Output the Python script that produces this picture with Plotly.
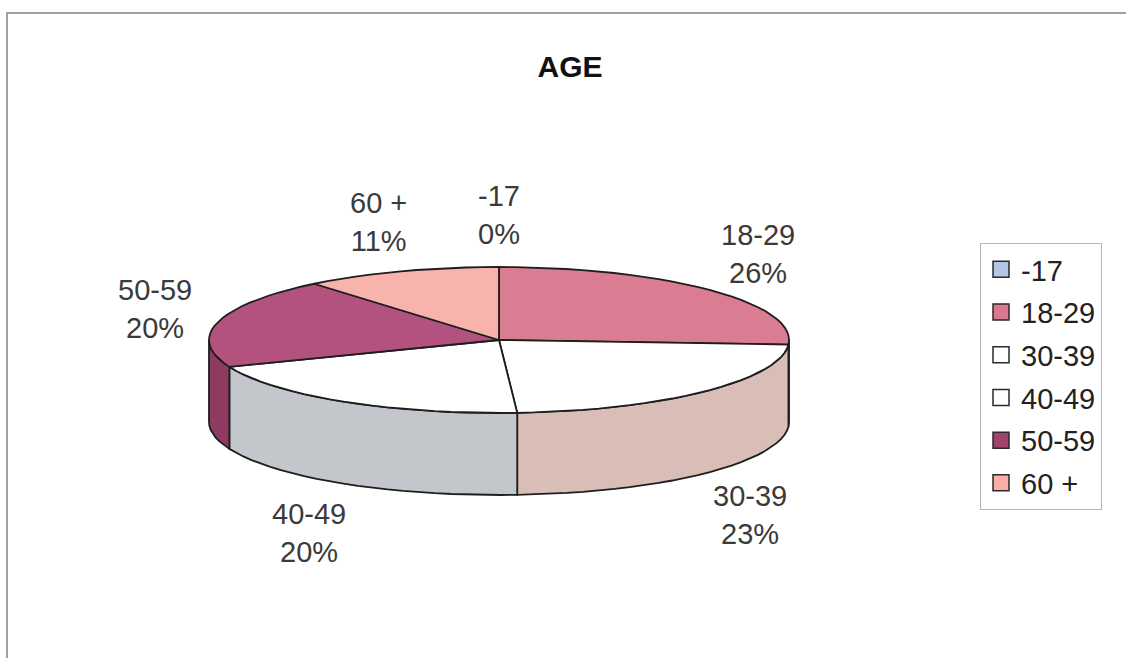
import math
import plotly.graph_objects as go

# ---- data ----
categories = ["-17", "18-29", "30-39", "40-49", "50-59", "60 +"]
percentages = [0, 26, 23, 20, 20, 11]
top_colors = ["#b9c8e6", "#da7d93", "#ffffff", "#ffffff", "#b4527f", "#f8b3ad"]
side_colors = ["#93a3c4", "#b45f72", "#d9beb7", "#c3c6cb", "#8e3b61", "#d8928c"]
legend_colors = ["#b3c4e4", "#d9788f", "#ffffff", "#ffffff", "#a3416e", "#f6aea6"]
title_text = "AGE"

# ---- layout constants ----
W, H = 1126, 658
CX, CY, RX, RY, DEPTH = 499, 340, 290, 73, 82
LX, LYT, LYF = 355, 125, 132
EDGE = "#1e1e1e"
FONT = "Liberation Sans, Arial, sans-serif"

total = float(sum(percentages))
fig = go.Figure()


def pt(theta, dy=0.0):
    return CX + RX * math.sin(theta), CY - RY * math.cos(theta) + dy


def arc(a0, a1, dy=0.0, n=100):
    xs, ys = [], []
    steps = max(2, int(n * (a1 - a0) / (2 * math.pi)) + 2)
    for k in range(steps + 1):
        t = a0 + (a1 - a0) * k / steps
        x, y = pt(t, dy)
        xs.append(x)
        ys.append(y)
    return xs, ys


# slice angles (clockwise from 12 o'clock)
bounds = []
acc = 0.0
for p in percentages:
    a0 = 2 * math.pi * acc / total
    acc += p
    a1 = 2 * math.pi * acc / total
    bounds.append((a0, a1))

# side faces (visible front half: pi/2 .. 3pi/2)
for i, (a0, a1) in enumerate(bounds):
    s0, s1 = max(a0, math.pi / 2), min(a1, 3 * math.pi / 2)
    if percentages[i] == 0 or s1 <= s0:
        continue
    tx, ty = arc(s0, s1)
    bx, by = arc(s0, s1, DEPTH)
    xs = tx + bx[::-1] + [tx[0]]
    ys = ty + by[::-1] + [ty[0]]
    fig.add_trace(go.Scatter(x=xs, y=ys, mode="lines", fill="toself",
                             fillcolor=side_colors[i],
                             line=dict(color=EDGE, width=1.8),
                             showlegend=False, hoverinfo="skip"))

# top faces
for i, (a0, a1) in enumerate(bounds):
    if percentages[i] == 0:
        continue
    ax_, ay_ = arc(a0, a1)
    xs = [CX] + ax_ + [CX]
    ys = [CY] + ay_ + [CY]
    fig.add_trace(go.Scatter(x=xs, y=ys, mode="lines", fill="toself",
                             fillcolor=top_colors[i],
                             line=dict(color=EDGE, width=1.8),
                             name=categories[i], showlegend=False,
                             hoverinfo="name"))

# legend entries
for i, c in enumerate(categories):
    fig.add_trace(go.Scatter(x=[None], y=[None], mode="markers", name=c,
                             legendgroup=c,
                             marker=dict(symbol="square", size=16,
                                         color=legend_colors[i],
                                         line=dict(color="#2a2a2a", width=1.5))))

# data labels
for i, (a0, a1) in enumerate(bounds):
    mid = (a0 + a1) / 2
    lx = CX + LX * math.sin(mid)
    c = math.cos(mid)
    if c >= 0:
        ly = CY - LYT * c
    else:
        ly = CY + DEPTH + LYF * (-c)
    pct = round(percentages[i] / total * 100)
    fig.add_annotation(x=lx, y=ly, xref="x", yref="y",
                       text=f"{categories[i]}<br>{pct}%", showarrow=False,
                       xanchor="center", yanchor="middle", align="center",
                       font=dict(family=FONT, size=29, color="#3a3a3a"))

# outer chart frame
fig.add_shape(type="rect", xref="x", yref="y", x0=7, y0=13, x1=W + 20, y1=H + 20,
              line=dict(color="#808080", width=1.5), fillcolor="rgba(0,0,0,0)",
              layer="below")

fig.update_layout(
    width=W, height=H,
    margin=dict(l=0, r=0, t=0, b=0),
    paper_bgcolor="white", plot_bgcolor="white",
    title=dict(text=f"<b>{title_text}</b>", x=570 / W, xanchor="center",
               y=1 - 66 / H, yanchor="middle",
               font=dict(family=FONT, size=30, color="#111111")),
    xaxis=dict(range=[0, W], visible=False, fixedrange=True),
    yaxis=dict(range=[H, 0], visible=False, fixedrange=True),
    showlegend=True,
    legend=dict(x=980 / W, y=1 - 243 / H, xanchor="left", yanchor="top",
                bgcolor="white", bordercolor="#b5b5b5", borderwidth=1,
                font=dict(family=FONT, size=29, color="#222222"),
                traceorder="grouped", tracegroupgap=2, itemclick=False),
)

fig.write_html("out.html",
               config={"displayModeBar": False},
               post_script="document.body.style.margin='0px';")
